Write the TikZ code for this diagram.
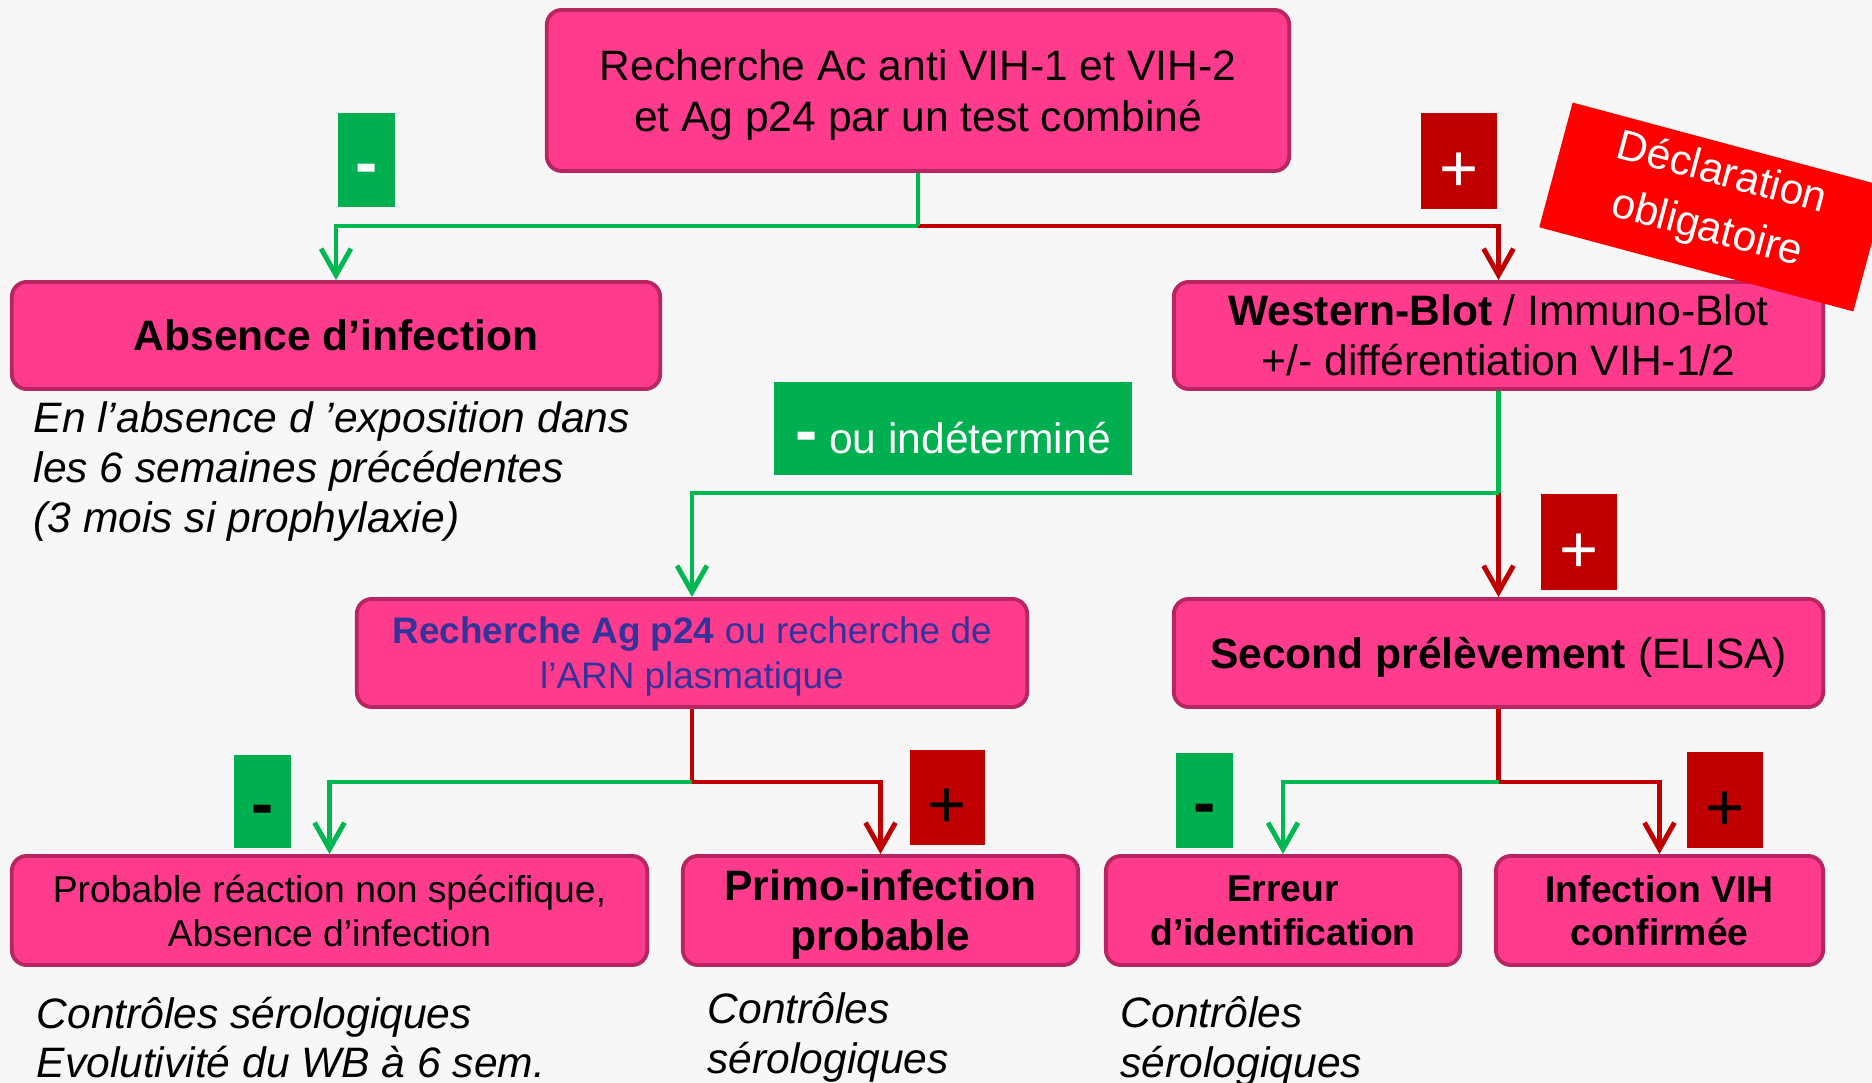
\documentclass[tikz,border=0pt]{standalone}
\usepackage{fontspec}
\setmainfont{Liberation Sans}
\usepackage{xcolor}
\usetikzlibrary{arrows.meta,
	positioning}
\definecolor{boxpink}{RGB}{255,59,141}
\definecolor{boxedge}{RGB}{185,37,96}
\definecolor{taggreen}{RGB}{0,176,80}
\definecolor{tagred}{RGB}{192,0,0}
\definecolor{linegreen}{RGB}{0,184,82}
\definecolor{declred}{RGB}{255,0,0}
\definecolor{agblue}{RGB}{51,51,153}
\definecolor{bgcol}{RGB}{247,247,247}
\def\txtbig{\fontsize{12.1}{14.5}\selectfont}
\def\txtsmall{\fontsize{10.6}{12.5}\selectfont}
\def\txttag{\fontsize{19}{19}\selectfont}

\begin{document}
\begin{tikzpicture}[x = 0.01cm, y = -0.01cm,
                >={Straight Barb[length=7.5pt,width=8.5pt]},
                box/.style={draw=boxedge, fill=boxpink, line width=1.1pt, rounded corners=0.15cm, align=center, inner sep=0pt, text depth=0pt},
                negtag/.style={fill=taggreen, inner sep=0pt, font=\txttag, text height=0.5cm, text depth=0pt},
                postag/.style={fill=tagred, inner sep=0pt, font=\txttag, text height=0.6cm, text depth=0pt},
                negline/.style={draw=linegreen, line width=1.4pt},
                posline/.style={draw=tagred, line width=1.4pt},
                note/.style={anchor=north west, align=left, inner sep=0pt, font=\itshape\fontsize{12.1}{14.2}\selectfont}]
            \useasboundingbox (0,0) rectangle (1872,1083);
            \clip (0,0) rectangle (1872,1083);
            \fill[bgcol] (0,0) rectangle (1872,1083);
            \node[box, minimum width=7.42cm, minimum height=1.61cm, font=\txtbig] (test) at (918,90.5) {Recherche Ac anti VIH-1 et VIH-2\\et Ag p24 par un test combiné};
            \node[box, minimum width=6.48cm, minimum height=1.07cm, font=\txtbig\bfseries] (absence) at (336,335.5) {Absence d’infection};
            \node[box, minimum width=6.49cm, minimum height=1.07cm, font=\fontsize{12.1}{14.2}\selectfont] (wb) at (1498.5,335.5) {\textbf{Western-Blot} / Immuno-Blot\\+/- différentiation VIH-1/2};
            \node[box, minimum width=6.70cm, minimum height=1.08cm, text=agblue, font=\fontsize{10.5}{12.8}\selectfont] (ag) at (692,653) {\textbf{Recherche Ag p24} ou recherche de\\l’ARN plasmatique};
            \node[box, minimum width=6.49cm, minimum height=1.08cm, font=\txtbig] (second) at (1498.5,653) {\textbf{Second prélèvement} (ELISA)};
            \node[box, minimum width=6.35cm, minimum height=1.09cm, font=\txtsmall] (nonspec) at (329.5,910.5) {Probable réaction non spécifique,\\Absence d’infection};
            \node[box, minimum width=3.95cm, minimum height=1.09cm, font=\fontsize{12.1}{14.2}\selectfont\bfseries] (primo) at (880.5,910.5) {Primo-infection\\probable};
            \node[box, minimum width=3.54cm, minimum height=1.09cm, font=\txtsmall\bfseries] (erreur) at (1283,910.5) {Erreur\\d’identification};
            \node[box, minimum width=3.27cm, minimum height=1.09cm, font=\txtsmall\bfseries] (vih) at (1659.5,910.5) {Infection VIH\\confirmée};
            \node[fill=taggreen, text=white, minimum width=3.58cm, minimum height=0.93cm, inner sep=0pt, text height=0.49cm, text depth=0pt, font=\txtbig] (indet) at (953,428.8) {{\txttag\bfseries -}\ ou indéterminé};
            \node[negtag, minimum width=0.57cm, minimum height=0.94cm, text=white] (n1) at (366.5,160) {\bfseries -};
            \node[postag, minimum width=0.76cm, minimum height=0.96cm, text=white] (p1) at (1459,161) {+};
            \node[postag, minimum width=0.76cm, minimum height=0.96cm, text=white] (p2) at (1579,542) {+};
            \node[negtag, minimum width=0.57cm, minimum height=0.93cm] (n3) at (262.5,801.5) {\bfseries -};
            \node[postag, minimum width=0.75cm, minimum height=0.95cm] (p3) at (947.5,797.5) {+};
            \node[negtag, minimum width=0.57cm, minimum height=0.95cm] (n4) at (1204.5,800.5) {\bfseries -};
            \node[postag, minimum width=0.76cm, minimum height=0.96cm] (p4) at (1725,800) {+};
            \node[note] (expo) at (33,401) {En l’absence d ’exposition dans\\les 6 semaines précédentes\\(3 mois si prophylaxie)};
            \node[note] (ctrl1) at (36,996) {Contrôles sérologiques\\Evolutivité du WB à 6 sem.};
            \node[note] (ctrl2) at (707,992) {Contrôles\\sérologiques};
            \node[note] (ctrl3) at (1120,996) {Contrôles\\sérologiques};
            \coordinate (j1) at (918,226);
            \coordinate (j2) at (1498.5,493);
            \coordinate (j3) at (692,782);
            \coordinate (j4) at (1498.5,782);
            \draw[posline, ->] (j1) -| (wb.north);
            \draw[negline] (test.south) -- (j1);
            \draw[negline, ->] (j1) -| (absence.north);
            \draw[posline, ->] (j2) -- (second.north);
            \draw[negline] (wb.south) -- (j2);
            \draw[negline, ->] (j2) -| (ag.north);
            \draw[posline] (ag.south) -- (j3);
            \draw[negline, ->] (j3) -| (nonspec.north);
            \draw[posline, ->] (j3) -| (primo.north);
            \draw[posline] (second.south) -- (j4);
            \draw[negline, ->] (j4) -| (erreur.north);
            \draw[posline, ->] (j4) -| (vih.north);
            \node[fill=declred, text=white, rotate=-15, minimum width=3.25cm, minimum height=1.29cm, inner sep=0pt, text depth=0.19cm, align=center, font=\fontsize{12.1}{16.3}\selectfont] (decl) at (1713,207) {Déclaration\\obligatoire};
        \end{tikzpicture}
\end{document}
